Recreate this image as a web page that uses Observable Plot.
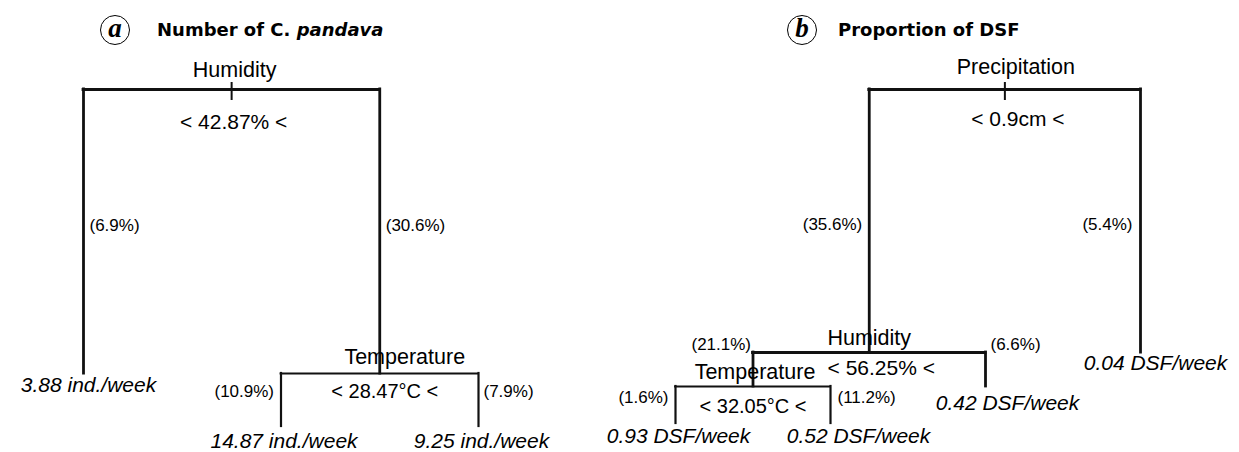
<!DOCTYPE html>
<html>
<head>
<meta charset="utf-8">
<script src="https://cdn.jsdelivr.net/npm/d3@7"></script>
<script src="https://cdn.jsdelivr.net/npm/@observablehq/plot@0.6"></script>
<style>
  body { margin: 0; background: #fff; }
  #wrap { position: relative; width: 1239px; height: 452px; display: flex; }
  .panel { position: relative; height: 452px; }
  .panel svg { overflow: visible; }
  .badge { position: absolute; top: 15px; width: 28px; height: 28px; border: 1.6px solid #000; border-radius: 50%;
           font: italic bold 27px "Liberation Serif", "DejaVu Serif", serif; text-align: center; line-height: 25px; color: #000; }
  .title { position: absolute; top: 19px; font: bold 18px "DejaVu Sans", sans-serif; color: #000; white-space: nowrap; }
  .title i { font-style: italic; }
</style>
</head>
<body>
<div id="wrap"></div>
<script>
// ---------------- data : panel (a) Number of C. pandava ----------------
const aVars   = ["Humidity", "Temperature"];
const aCuts   = ["< 42.87% <", "< 28.47°C <"];
const aGain   = [0.568, 0.106];                       // deviance explained by each split (branch length)
const aPct    = [["(6.9%)", "(30.6%)"], ["(10.9%)", "(7.9%)"]];
const aLeaves = ["3.88 ind./week", "14.87 ind./week", "9.25 ind./week"];
const aKids   = [["L0", "S1"], ["L1", "L2"]];

// ---------------- data : panel (b) Proportion of DSF ----------------
const bVars   = ["Precipitation", "Humidity", "Temperature"];
const bCuts   = ["< 0.9cm <", "< 56.25% <", "< 32.05°C <"];
const bGain   = [0.526, 0.068, 0.074];
const bPct    = [["(35.6%)", "(5.4%)"], ["(21.1%)", "(6.6%)"], ["(1.6%)", "(11.2%)"]];
const bLeaves = ["0.93 DSF/week", "0.52 DSF/week", "0.42 DSF/week", "0.04 DSF/week"];
const bKids   = [["S1", "L3"], ["S2", "L2"], ["L0", "L1"]];

// ---------------- layout (rpart style: leaves in order, parents at midpoint, drop = gain) ----------------
function layoutTree(kids, gain, leaves, pct) {
  const splits = [], branches = [], leafNodes = [];
  function place(id, r) {
    const k = +id.slice(1);
    if (id[0] === "L") { leafNodes.push({i: k, label: leaves[k], x: k, r}); return k; }
    const rc = r - gain[k];
    const xs = kids[k].map(c => place(c, rc));
    const x = (xs[0] + xs[1]) / 2;
    splits[k] = {i: k, x, r, x1: xs[0], x2: xs[1], rc};
    xs.forEach((cx, j) => branches.push({split: k, side: j, x: cx, r1: r, r2: rc, label: pct[k][j]}));
    return x;
  }
  place("S0", 1);
  return {splits, branches, leafNodes};
}

// ---------------- styles (offsets / sizes, kept apart from data) ----------------
const styleA = {
  width: 590, xRange: [83, 478], nLeaves: 3,
  varDx: [3, 25], varDy: [-19, -16], cutDx: [2, 5], cutDy: [33, 18], cutSize: [21, 20],
  hWidth: [2.8, 1.8], vWidth: [2.8, 2.2],
  pct: [[{at: "mid", anchor: "start", dx: 6, dy: -6}, {at: "mid", anchor: "start", dx: 6, dy: -6}],
        [{at: "mid", anchor: "end", dx: -7, dy: -8}, {at: "mid", anchor: "start", dx: 5, dy: -8}]],
  leafDx: [5, 3, 3], leafDy: [12, 15, 15],
  badge: 115, title: 157
};
const styleB = {
  width: 649, xRange: [85, 550], nLeaves: 4,
  varDx: [11, 0, 2], varDy: [-22, -14, -14], cutDx: [13, 12, 0], cutDy: [30, 16, 20], cutSize: [21, 21, 20],
  hWidth: [2.8, 2.8, 1.8], vWidth: [2.8, 2.8, 2.2],
  pct: [[{at: "mid", anchor: "end", dx: -7, dy: 4}, {at: "mid", anchor: "end", dx: -8, dy: 4}],
        [{at: "top", anchor: "end", dx: -2, dy: -8}, {at: "top", anchor: "start", dx: 5, dy: -8}],
        [{at: "mid", anchor: "end", dx: -7, dy: -7}, {at: "mid", anchor: "start", dx: 7, dy: -7}]],
  leafDx: [3, 28, 22, 15], leafDy: [13, 13, 17, 11],
  badge: 212, title: 248
};

function drawPanel(tree, st, vars, cuts) {
  const {splits, branches, leafNodes} = tree;
  const ink = "#111";
  const marks = [
    Plot.ruleY(splits, {y: "r", x1: "x1", x2: "x2", stroke: ink, strokeWidth: d => st.hWidth[d.i], strokeLinecap: "square"}),
    Plot.ruleX(branches, {x: "x", y1: "r1", y2: "r2", stroke: ink, strokeWidth: d => st.vWidth[d.split], strokeLinecap: "square"}),
    Plot.ruleX([splits[0]], {x: "x", y1: "r", y2: "r", insetTop: -7, insetBottom: -11, stroke: ink, strokeWidth: 2})
  ];
  splits.forEach(s => {
    marks.push(Plot.text([s], {x: "x", y: "r", text: d => vars[d.i], dx: st.varDx[s.i], dy: st.varDy[s.i], fontSize: 21.5, fill: "#000"}));
    marks.push(Plot.text([s], {x: "x", y: "r", text: d => cuts[d.i], dx: st.cutDx[s.i], dy: st.cutDy[s.i], fontSize: st.cutSize[s.i], fill: "#000"}));
  });
  branches.forEach(b => {
    const p = st.pct[b.split][b.side];
    marks.push(Plot.text([b], {x: "x", y: d => p.at === "mid" ? (d.r1 + d.r2) / 2 : d.r1, text: "label",
      textAnchor: p.anchor, dx: p.dx, dy: p.dy, fontSize: 17, fill: "#000"}));
  });
  leafNodes.forEach(l => {
    marks.push(Plot.text([l], {x: "x", y: "r", text: "label", dx: st.leafDx[l.i], dy: st.leafDy[l.i],
      fontSize: 21, fontStyle: "italic", fill: "#000"}));
  });
  return Plot.plot({
    width: st.width, height: 452, margin: 0,
    x: {domain: [0, st.nLeaves - 1], range: st.xRange, axis: null},
    y: {domain: [0, 1], range: [589, 89], axis: null},
    style: {fontFamily: "'Liberation Sans', Arial, sans-serif", background: "transparent", color: "#000", overflow: "visible"},
    marks
  });
}

const wrap = document.getElementById("wrap");
function addPanel(letter, titleHTML, tree, st, vars, cuts) {
  const div = document.createElement("div");
  div.className = "panel";
  div.style.width = st.width + "px";
  div.appendChild(drawPanel(tree, st, vars, cuts));
  const badge = document.createElement("div");
  badge.className = "badge"; badge.textContent = letter; badge.style.left = (st.badge - 15) + "px";
  const title = document.createElement("div");
  title.className = "title"; title.innerHTML = titleHTML; title.style.left = st.title + "px";
  div.appendChild(badge); div.appendChild(title);
  wrap.appendChild(div);
}
addPanel("a", "Number of C. <i>pandava</i>", layoutTree(aKids, aGain, aLeaves, aPct), styleA, aVars, aCuts);
addPanel("b", "Proportion of DSF", layoutTree(bKids, bGain, bLeaves, bPct), styleB, bVars, bCuts);
</script>
</body>
</html>
